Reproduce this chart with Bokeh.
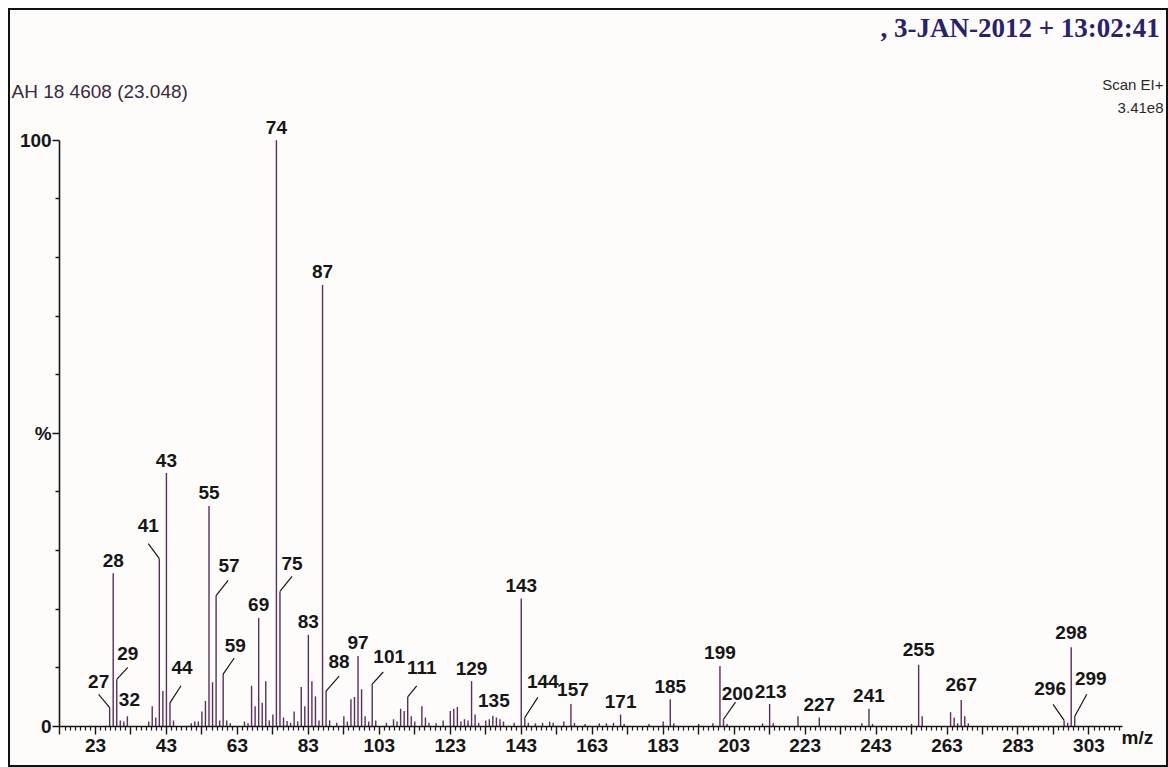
from bokeh.plotting import figure
from bokeh.models import ColumnDataSource, Range1d, FixedTicker, Label, LinearAxis
from bokeh.embed import file_html
from bokeh.resources import INLINE
from bokeh.core.properties import value

# ---------------- data ----------------
mz = [27, 28, 29, 30, 31, 32, 38, 39, 40, 41, 42, 43, 44, 45, 50, 51, 52, 53, 54, 55,
      56, 57, 58, 59, 60, 61, 65, 66, 67, 68, 69, 70, 71, 72, 73, 74, 75, 76, 77, 78,
      79, 80, 81, 82, 83, 84, 85, 86, 87, 88, 89, 91, 93, 94, 95, 96, 97, 98, 99, 100,
      101, 102, 105, 107, 108, 109, 110, 111, 112, 113, 115, 116, 117, 119, 121, 123, 124, 125, 126, 127,
      128, 129, 130, 131, 133, 134, 135, 136, 137, 138, 141, 143, 144, 145, 147, 149, 151, 152, 155, 157,
      158, 161, 165, 167, 169, 171, 172, 179, 183, 185, 186, 193, 197, 199, 200, 201, 211, 213, 214, 221,
      227, 239, 241, 242, 253, 255, 256, 264, 265, 266, 267, 268, 269, 296, 297, 298, 299]
intensity = [3.2, 26.1, 8.0, 1.0, 0.8, 1.7, 0.8, 3.4, 1.5, 28.6, 6.0, 43.2, 4.0, 1.0, 0.5, 0.8, 0.8, 2.5, 4.3, 37.6,
             7.5, 22.3, 1.0, 8.9, 1.0, 0.5, 0.8, 0.5, 6.9, 3.4, 18.5, 4.0, 7.7, 1.0, 2.0, 100.0, 23.0, 1.5, 0.9, 0.6,
             2.5, 0.8, 6.7, 3.4, 15.6, 7.7, 5.1, 1.0, 75.3, 6.0, 1.0, 0.6, 1.7, 0.8, 4.6, 5.0, 12.0, 6.3, 1.7, 0.8,
             7.2, 1.0, 0.6, 1.2, 0.8, 3.0, 2.6, 5.0, 1.7, 0.8, 3.4, 1.5, 0.6, 0.5, 1.0, 2.6, 3.0, 3.3, 0.8, 1.2,
             1.0, 7.7, 2.0, 0.6, 1.0, 1.2, 1.8, 1.5, 1.2, 0.8, 0.6, 21.8, 1.5, 0.6, 0.5, 0.6, 0.8, 0.6, 0.8, 3.8,
             0.6, 0.4, 0.5, 0.5, 0.6, 2.0, 0.4, 0.4, 0.8, 4.6, 0.5, 0.4, 0.5, 10.3, 1.2, 0.4, 0.5, 3.8, 0.5, 1.7,
             1.5, 0.5, 3.0, 0.4, 0.4, 10.5, 1.7, 2.4, 1.5, 0.5, 4.5, 1.7, 0.5, 1.0, 0.6, 13.5, 1.7]

labelled_mz = [27, 28, 29, 32, 41, 43, 44, 55, 57, 59, 69, 74, 75, 83, 87, 88, 97, 101, 111,
               129, 135, 143, 144, 157, 171, 185, 199, 200, 213, 227, 241, 255, 267, 296, 298, 299]

x_tick_values = [23, 43, 63, 83, 103, 123, 143, 163, 183, 203, 223, 243, 263, 283, 303]
y_tick_labels = {0: "0", 50: "%", 100: "100"}
mz_axis_start, mz_axis_end = 12.9, 312.4

title_text = ",  3-JAN-2012 + 13:02:41"
sample_text = "AH 18 4608 (23.048)"
scan_text = "Scan EI+"
tic_text = "3.41e8"
x_axis_text = "m/z"

# ---------------- styling / layout ----------------
MARGIN, BORDER = 8, 2
W, H = 1160, 759
CW, CH = W - 2 * BORDER, H - 2 * BORDER      # canvas size
OX, OY = MARGIN + BORDER, MARGIN + BORDER    # canvas origin on the page
XS, YS = 3.536, 5.83                         # px per m/z unit, px per %
X0 = 74 - (275 - OX) / XS
X1 = X0 + CW / XS
Y1 = (722 - OY) / YS
Y0 = Y1 - CH / YS

SANS = "Liberation Sans"
INK = "#161616"
PEAK = "#5a2f5a"
BG = "#fdfcfb"
LABEL_SIZE = "19px"

# label placement: (dx, dy above peak top) and optional leader start (dx, dy above)
label_place = {27: (-11, 26, (-11, 13)), 29: (11, 26, (11, 12)), 32: (2, 17, None),
               41: (-11, 33, (-11, 15)), 44: (12, 35, (11, 17)), 57: (13, 30, (12, 15)),
               59: (12, 29, (11, 16)), 75: (12, 28, (12, 15)), 88: (13, 30, (13, 15)),
               101: (17, 28, (11, 12)), 111: (14, 29, (9, 11)), 144: (18, 36, (13, 20)),
               200: (14, 26, (12, 17)), 296: (-14, 32, (-11, 16)), 299: (16, 38, (12, 22)),
               135: (1, 15, None), 157: (2, 15, None), 267: (0, 15, None),
               213: (1, 13, None), 255: (0, 15, None), 298: (0, 15, None)}
DEFAULT_PLACE = (0, 13, None)

p = figure(width=W, height=H, x_range=Range1d(X0, X1), y_range=Range1d(Y0, Y1),
           output_backend="svg", toolbar_location=None,
           x_axis_type=None, y_axis_type=None,
           min_border_left=0, min_border_right=0, min_border_bottom=0, min_border_top=0)
p.outline_line_color = None
p.background_fill_color = BG
p.border_fill_color = BG
p.styles = {"border": "%dpx solid #111111" % BORDER, "box-sizing": "border-box",
            "margin-left": "%dpx" % MARGIN, "margin-top": "%dpx" % MARGIN}

# axes
minor_x = []
k = 0
while True:
    v = 13 + k * 10 / 7
    if v > mz_axis_end:
        break
    if abs((v - 23) / 10 - round((v - 23) / 10)) > 1e-6:
        minor_x.append(round(v, 4))
    k += 1
major_x = list(range(13, 313, 10))
xov = {t: (str(t) if t in x_tick_values else "") for t in major_x}
xaxis = LinearAxis(ticker=FixedTicker(ticks=major_x, minor_ticks=minor_x),
                   major_label_overrides=xov, fixed_location=0,
                   bounds=(mz_axis_start, mz_axis_end))
xaxis.axis_line_color = INK
xaxis.axis_line_width = 1.6
xaxis.major_tick_line_color = INK
xaxis.minor_tick_line_color = INK
xaxis.major_tick_line_width = 1.4
xaxis.minor_tick_line_width = 1.2
xaxis.major_tick_in = 0
xaxis.major_tick_out = 8
xaxis.minor_tick_in = 0
xaxis.minor_tick_out = 4
xaxis.major_label_standoff = 5
xaxis.major_label_text_font = SANS
xaxis.major_label_text_font_size = LABEL_SIZE
xaxis.major_label_text_font_style = "bold"
xaxis.major_label_text_color = INK
p.add_layout(xaxis, "below")

yaxis = LinearAxis(ticker=FixedTicker(ticks=list(y_tick_labels.keys()),
                                      minor_ticks=[10, 20, 30, 40, 60, 70, 80, 90]),
                   major_label_overrides=y_tick_labels, bounds=(0, 100),
                   fixed_location=mz_axis_start)
yaxis.axis_line_color = INK
yaxis.axis_line_width = 1.6
yaxis.major_tick_line_color = INK
yaxis.minor_tick_line_color = INK
yaxis.major_tick_line_width = 1.4
yaxis.minor_tick_line_width = 1.4
yaxis.major_tick_in = 0
yaxis.major_tick_out = 7
yaxis.minor_tick_in = 0
yaxis.minor_tick_out = 4
yaxis.major_label_standoff = 1
yaxis.major_label_text_font = SANS
yaxis.major_label_text_font_size = LABEL_SIZE
yaxis.major_label_text_font_style = "bold"
yaxis.major_label_text_color = INK
p.add_layout(yaxis, "left")

# peaks
src = ColumnDataSource(dict(mz=mz, intensity=intensity))
p.segment(x0="mz", y0=0, x1="mz", y1="intensity", source=src,
          line_color=PEAK, line_width=1.4)

# peak labels and leader lines
lookup = dict(zip(mz, intensity))
lx, ly, lt, ldx, ldy = [], [], [], [], []
sx0, sy0, sx1, sy1 = [], [], [], []
for m in labelled_mz:
    h = lookup[m]
    dx, dy, lead = label_place.get(m, DEFAULT_PLACE)
    lx.append(m); ly.append(h); lt.append(str(m)); ldx.append(dx); ldy.append(-dy)
    if lead is not None:
        sx0.append(m + lead[0] / XS); sy0.append(h + lead[1] / YS)
        sx1.append(m); sy1.append(h)

p.segment(x0="x0", y0="y0", x1="x1", y1="y1",
          source=ColumnDataSource(dict(x0=sx0, y0=sy0, x1=sx1, y1=sy1)),
          line_color=INK, line_width=1.2)
p.text(x="x", y="y", text="text", x_offset="dx", y_offset="dy",
       source=ColumnDataSource(dict(x=lx, y=ly, text=lt, dx=ldx, dy=ldy)),
       text_align="center", text_baseline="middle", text_font=value(SANS),
       text_font_size=LABEL_SIZE, text_font_style="bold", text_color=INK)

# header and axis texts (screen units; the frame fills the canvas)
def sx(page_x):
    return page_x - OX

def sy(page_y):
    return CH - (page_y - OY)

p.add_layout(Label(x=sx(1166), y=sy(23), x_units="screen", y_units="screen",
                   text=title_text, text_align="right", text_baseline="middle",
                   text_font="Liberation Serif", text_font_style="bold",
                   text_font_size="27px", text_color="#28226a"))
p.add_layout(Label(x=sx(11), y=sy(87), x_units="screen", y_units="screen",
                   text=sample_text, text_align="left", text_baseline="middle",
                   text_font=SANS, text_font_size="19px", text_color="#3a2a3c"))
p.add_layout(Label(x=sx(1163), y=sy(80), x_units="screen", y_units="screen",
                   text=scan_text, text_align="right", text_baseline="middle",
                   text_font=SANS, text_font_size="15px", text_color="#2a2a2a"))
p.add_layout(Label(x=sx(1163), y=sy(103), x_units="screen", y_units="screen",
                   text=tic_text, text_align="right", text_baseline="middle",
                   text_font=SANS, text_font_size="15px", text_color="#2a2a2a"))
p.add_layout(Label(x=sx(1121), y=sy(733), x_units="screen", y_units="screen",
                   text=x_axis_text, text_align="left", text_baseline="middle",
                   text_font=SANS, text_font_size="19px", text_font_style="bold",
                   text_color=INK))

open("out.html", "w").write(file_html(p, INLINE))
